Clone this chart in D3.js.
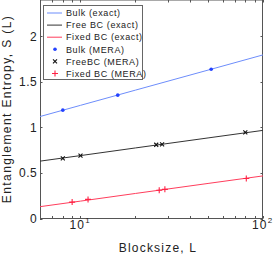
<!DOCTYPE html>
<html><head><meta charset="utf-8">
<script src="https://cdn.jsdelivr.net/npm/d3@7"></script>
<style>
html,body{margin:0;padding:0;background:#fff;}
svg{display:block;font-family:"Liberation Sans",Arial,sans-serif;}
</style></head>
<body><svg id="c" width="273" height="255"></svg>
<script>
// exact (analytic) lines
const exactL = [6, 10, 20, 50, 100];
const bulkExact = [1.12, 1.243, 1.410, 1.630, 1.797];
const freeExact = [0.63, 0.691, 0.775, 0.885, 0.968];
const fixedExact = [0.13, 0.191, 0.275, 0.385, 0.468];
// MERA points
const bulkMeraL = [8, 16, 52];
const bulkMera = [1.19, 1.355, 1.64];
const freeMeraL = [8, 10, 26, 28, 80];
const freeMera = [0.66, 0.69, 0.81, 0.815, 0.945];
const fixedMeraL = [9, 11, 27, 29, 81];
const fixedMera = [0.18, 0.21, 0.31, 0.32, 0.44];
const yTicks = [0, 0.5, 1, 1.5, 2];
const xMajor = [10, 100];
const xMinor = [7, 8, 9, 20, 30, 40, 50, 60, 70, 80, 90];
const legendLabels = ["Bulk (exact)", "Free BC (exact)", "Fixed BC (exact)", "Bulk (MERA)", "FreeBC (MERA)", "Fixed BC (MERA)"];

const W = 273, H = 255;
const L = 40, R = 263, T = 0, B = 218.5;
const x = d3.scaleLog().domain([6, 100]).range([L, R]);
const y = d3.scaleLinear().domain([0, 2.4]).range([B, T]);
const svg = d3.select("#c");

const cBlueLine = "#6d8dfb", cBlue = "#2442ff", cBlack = "#333", cRed = "#ff3d5c", cRedM = "#ff2244";
const axisCol = "#555";

svg.append("clipPath").attr("id", "clip").append("rect").attr("x", L).attr("y", T).attr("width", R - L).attr("height", B - T);

const tl = 2.5;
const tg = svg.append("g").attr("stroke", axisCol).attr("stroke-width", 1);
yTicks.forEach(v => {
  const yy = Math.round(y(v)) + 0.5;
  tg.append("line").attr("x1", L).attr("x2", L + tl).attr("y1", yy).attr("y2", yy);
  tg.append("line").attr("x1", R).attr("x2", R - tl).attr("y1", yy).attr("y2", yy);
});
xMajor.concat(xMinor).forEach(v => {
  const xx = Math.round(x(v)) + 0.5;
  tg.append("line").attr("x1", xx).attr("x2", xx).attr("y1", B).attr("y2", B - tl);
  tg.append("line").attr("x1", xx).attr("x2", xx).attr("y1", T).attr("y2", T + tl);
});

svg.append("rect").attr("x", L + 0.5).attr("y", T).attr("width", R - L - 1).attr("height", B - T)
  .attr("fill", "none").attr("stroke", axisCol).attr("stroke-width", 1);

yTicks.forEach(v => {
  svg.append("text").attr("x", 37).attr("y", y(v) + 4.3).attr("text-anchor", "end")
    .attr("font-size", 12).attr("fill", "#222").attr("letter-spacing", 0.4).text(String(v));
});
xMajor.forEach(v => {
  const t = svg.append("text").attr("x", x(v) - 11).attr("y", 228.5)
    .attr("font-size", 12).attr("fill", "#222").attr("letter-spacing", 1.2);
  t.append("tspan").text("10");
  t.append("tspan").attr("font-size", 8).attr("dy", -6).attr("dx", 0).text(String(Math.round(Math.log10(v))));
});

svg.append("text").attr("x", 158).attr("y", 251.5).attr("text-anchor", "middle")
  .attr("font-size", 12).attr("letter-spacing", 1.2).attr("fill", "#222").text("Blocksize, L");
svg.append("text").attr("transform", "translate(11,109) rotate(-90)").attr("text-anchor", "middle")
  .attr("font-size", 12).attr("letter-spacing", 1.4).attr("fill", "#222").text("Entanglement Entropy, S (L)");

const line = d3.line().x(d => x(d[0])).y(d => y(d[1]));
const pg = svg.append("g").attr("clip-path", "url(#clip)");
[[bulkExact, cBlueLine], [freeExact, cBlack], [fixedExact, cRed]].forEach(([vals, col]) => {
  pg.append("path").datum(exactL.map((l, i) => [l, vals[i]])).attr("d", line)
    .attr("fill", "none").attr("stroke", col).attr("stroke-width", 1);
});

function dot(g, cx, cy) { g.append("circle").attr("cx", cx).attr("cy", cy).attr("r", 1.8).attr("fill", cBlue); }
function cross(g, cx, cy) {
  const s = 2;
  g.append("path").attr("d", `M${cx - s},${cy - s}L${cx + s},${cy + s}M${cx - s},${cy + s}L${cx + s},${cy - s}`)
    .attr("stroke", "#111").attr("stroke-width", 1.1).attr("fill", "none");
}
function plus(g, cx, cy) {
  const s = 3;
  g.append("path").attr("d", `M${cx - s},${cy}L${cx + s},${cy}M${cx},${cy - s}L${cx},${cy + s}`)
    .attr("stroke", cRedM).attr("stroke-width", 1.1).attr("fill", "none");
}
bulkMeraL.forEach((l, i) => dot(pg, x(l), y(bulkMera[i])));
freeMeraL.forEach((l, i) => cross(pg, x(l), y(freeMera[i])));
fixedMeraL.forEach((l, i) => plus(pg, x(l), y(fixedMera[i])));

const lg = svg.append("g");
lg.append("rect").attr("x", 43.5).attr("y", 5.5).attr("width", 99).attr("height", 74)
  .attr("fill", "#fff").attr("stroke", "#666").attr("stroke-width", 1);
const ly0 = 13, ldy = 12.1;
legendLabels.forEach((lab, i) => {
  const yy = ly0 + i * ldy;
  if (i < 3) {
    lg.append("line").attr("x1", 47).attr("x2", 62).attr("y1", yy).attr("y2", yy)
      .attr("stroke", [cBlueLine, cBlack, cRed][i]).attr("stroke-width", 1);
  } else if (i === 3) dot(lg, 55, yy);
  else if (i === 4) cross(lg, 55, yy);
  else plus(lg, 55, yy);
  lg.append("text").attr("x", 66).attr("y", yy + 3.2).attr("font-size", 9)
    .attr("letter-spacing", 0.6).attr("fill", "#222").text(lab);
});
</script></body></html>
